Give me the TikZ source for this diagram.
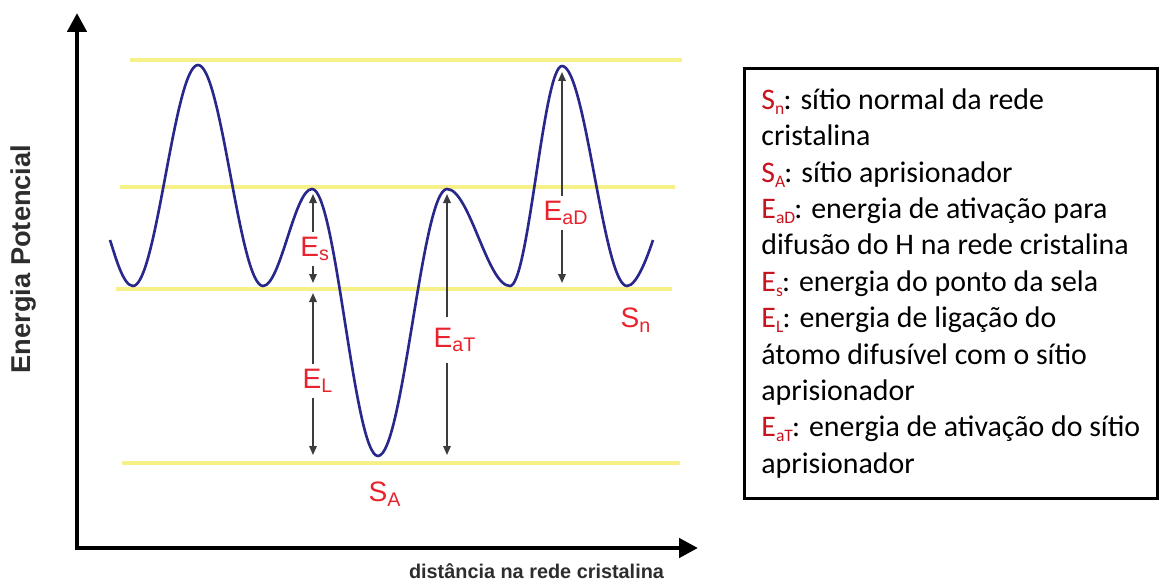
\documentclass[tikz,border=0pt]{standalone}
\usepackage{fontspec}
\setmainfont{Carlito}
\newfontfamily\arialfont{Liberation Sans}
\usetikzlibrary{arrows.meta,positioning}

\definecolor{levelyellow}{RGB}{245,240,135}
\definecolor{curveblue}{RGB}{40,40,140}
\definecolor{labelred}{RGB}{232,35,45}
\definecolor{legendred}{RGB}{200,20,30}
\definecolor{arrowgray}{RGB}{60,60,60}
\definecolor{axisgray}{RGB}{45,45,45}

\newcommand{\lsym}[2]{{\color{legendred}#1\raisebox{-0.35ex}{\fontsize{10}{10}\selectfont #2}}\kern-0.5pt}

\begin{document}
\begin{tikzpicture}[
  level/.style={draw=levelyellow, line width=2pt},
  curve/.style={draw=curveblue, line width=1.5pt},
  dim/.style={-{Triangle[length=1.8mm,width=1.5mm]}, draw=arrowgray, line width=0.9pt},
  elabel/.style={text=labelred, font=\arialfont\fontsize{16}{18}\selectfont, inner sep=2.5pt},
  axis/.style={line width=2.6pt, {Triangle[length=3.8mm,width=3.8mm]}-{Triangle[length=3.8mm,width=3.8mm]}},
  legend/.style={draw, line width=1.5pt, align=left, minimum width=8.26cm, minimum height=8.6cm, font=\fontsize{17}{20.7}\selectfont}
]
\useasboundingbox (0,0) rectangle (23.18,11.68);

% axes
\coordinate (origin) at (1.54,0.72);
\coordinate (ytip) at (1.54,11.42);
\coordinate (xtip) at (13.96,0.72);
\draw[axis] (ytip) -- (origin) -- (xtip);
\node[font=\arialfont\bfseries\fontsize{15.5}{18}\selectfont, text=axisgray, rotate=90] (ylab) at (0.48,6.5) {Energia Potencial};
\node[font=\arialfont\bfseries\fontsize{11.3}{13}\selectfont, text=axisgray] (xlab) at (10.73,0.25) {distância na rede cristalina};

% energy levels
\coordinate (l1a) at (2.60,10.48); \coordinate (l1b) at (13.64,10.48);
\coordinate (l2a) at (2.40,7.94);  \coordinate (l2b) at (13.50,7.94);
\coordinate (l3a) at (2.32,5.90);  \coordinate (l3b) at (13.44,5.90);
\coordinate (l4a) at (2.44,2.42);  \coordinate (l4b) at (13.60,2.42);
\draw[level] (l1a) -- (l1b);
\draw[level] (l2a) -- (l2b);
\draw[level] (l3a) -- (l3b);
\draw[level] (l4a) -- (l4b);

% potential curve
\coordinate (c0) at (2.20,6.88);
\coordinate (m1) at (2.66,5.96);
\coordinate (p1) at (3.96,10.38);
\coordinate (m2) at (5.26,5.96);
\coordinate (p2) at (6.24,7.90);
\coordinate (m3) at (7.56,2.56);
\coordinate (p3) at (8.94,7.90);
\coordinate (m4) at (10.20,5.96);
\coordinate (p4) at (11.24,10.36);
\coordinate (m5) at (12.54,5.96);
\coordinate (c9) at (13.06,6.88);
\draw[curve] (c0) .. controls +(0.1,-0.3) and +(-0.2,0) .. (m1)
  .. controls +(0.47,0) and +(-0.47,0) .. (p1)
  .. controls +(0.47,0) and +(-0.47,0) .. (m2)
  .. controls +(0.35,0) and +(-0.35,0) .. (p2)
  .. controls +(0.48,0) and +(-0.48,0) .. (m3)
  .. controls +(0.50,0) and +(-0.50,0) .. (p3)
  .. controls +(0.45,0) and +(-0.45,0) .. (m4)
  .. controls +(0.37,0) and +(-0.37,0) .. (p4)
  .. controls +(0.47,0) and +(-0.47,0) .. (m5)
  .. controls +(0.2,0) and +(-0.1,-0.3) .. (c9);

% energy differences
\coordinate (esTop) at (6.26,7.80);
\coordinate (esBot) at (6.26,6.02);
\coordinate (elTop) at (6.26,5.82);
\coordinate (elBot) at (6.26,2.58);
\coordinate (etTop) at (8.94,7.80);
\coordinate (etBot) at (8.94,2.58);
\coordinate (edTop) at (11.24,10.24);
\coordinate (edBot) at (11.24,6.02);
\node[elabel] (Es) at (6.30,6.70) {E\textsubscript{s}};
\node[elabel] (EL) at (6.36,4.06) {E\textsubscript{L}};
\node[elabel, inner ysep=6pt] (EaT) at (9.10,4.88) {E\textsubscript{aT}};
\node[elabel] (EaD) at (11.32,7.42) {E\textsubscript{aD}};
\node[elabel] (Sn) at (12.72,5.28) {S\textsubscript{n}};
\node[elabel] (SA) at (7.70,1.80) {S\textsubscript{A}};
\draw[dim] (Es.north -| esTop) -- (esTop);
\draw[dim] (Es.south -| esBot) -- (esBot);
\draw[dim] (EL.north -| elTop) -- (elTop);
\draw[dim] (EL.south -| elBot) -- (elBot);
\draw[dim] (EaT.north -| etTop) -- (etTop);
\draw[dim] (EaT.south -| etBot) -- (etBot);
\draw[dim] (EaD.north -| edTop) -- (edTop);
\draw[dim] (EaD.south -| edBot) -- (edBot);

% legend
\node[legend, anchor=north west] (legend) at (14.86,10.34) {%
\lsym{S}{n}: sítio normal da rede\\
cristalina\\
\lsym{S}{A}: sítio aprisionador\\
\lsym{E}{aD}: energia de ativação para\\
difusão do H na rede cristalina\\
\lsym{E}{s}: energia do ponto da sela\\
\lsym{E}{L}: energia de ligação do\\
átomo difusível com o sítio\\
aprisionador\\
\lsym{E}{aT}: energia de ativação do sítio\\
aprisionador};
\end{tikzpicture}
\end{document}
